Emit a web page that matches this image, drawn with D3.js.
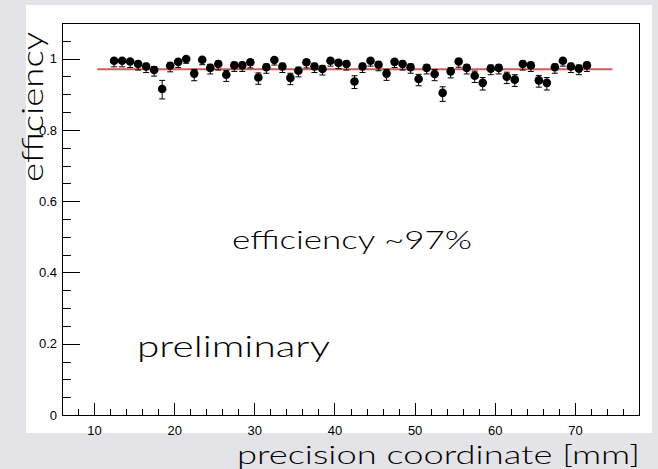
<!DOCTYPE html>
<html>
<head>
<meta charset="utf-8">
<script src="https://cdn.jsdelivr.net/npm/d3@7"></script>
<style>
  html, body { margin: 0; padding: 0; background: #e4e4e8; }
  svg { display: block; }
</style>
</head>
<body>
<svg id="chart" width="658" height="469"></svg>
<script>
// Bin centres along the precision coordinate [mm]
const positions = [
  12.5, 13.5, 14.5, 15.5, 16.5, 17.5, 18.5, 19.5, 20.5, 21.5,
  22.5, 23.5, 24.5, 25.5, 26.5, 27.5, 28.5, 29.5, 30.5, 31.5,
  32.5, 33.5, 34.5, 35.5, 36.5, 37.5, 38.5, 39.5, 40.5, 41.5,
  42.5, 43.5, 44.5, 45.5, 46.5, 47.5, 48.5, 49.5, 50.5, 51.5,
  52.5, 53.5, 54.5, 55.5, 56.5, 57.5, 58.5, 59.5, 60.5, 61.5,
  62.5, 63.5, 64.5, 65.5, 66.5, 67.5, 68.5, 69.5, 70.5, 71.5
];
// Measured efficiency per bin
const efficiency = [
  0.994, 0.994, 0.992, 0.985, 0.978, 0.968, 0.915, 0.980, 0.991, 0.999,
  0.958, 0.997, 0.974, 0.985, 0.955, 0.981, 0.981, 0.990, 0.947, 0.976,
  0.996, 0.978, 0.946, 0.966, 0.990, 0.978, 0.971, 0.994, 0.988, 0.985,
  0.936, 0.978, 0.994, 0.983, 0.958, 0.991, 0.985, 0.976, 0.943, 0.974,
  0.957, 0.904, 0.964, 0.992, 0.974, 0.952, 0.932, 0.972, 0.974, 0.949,
  0.941, 0.985, 0.981, 0.939, 0.932, 0.976, 0.994, 0.978, 0.972, 0.981
];
// Asymmetric uncertainties (lower / upper)
const errLow = [
  0.017, 0.017, 0.017, 0.017, 0.017, 0.017, 0.028, 0.017, 0.016, 0.012,
  0.020, 0.014, 0.017, 0.017, 0.019, 0.017, 0.017, 0.016, 0.019, 0.017,
  0.014, 0.017, 0.019, 0.017, 0.016, 0.017, 0.017, 0.015, 0.016, 0.017,
  0.020, 0.017, 0.015, 0.017, 0.019, 0.016, 0.017, 0.017, 0.019, 0.017,
  0.019, 0.024, 0.018, 0.016, 0.017, 0.019, 0.020, 0.017, 0.017, 0.019,
  0.019, 0.017, 0.017, 0.019, 0.020, 0.017, 0.015, 0.017, 0.017, 0.017
];
const errHigh = [
  0.005, 0.005, 0.006, 0.008, 0.009, 0.010, 0.024, 0.009, 0.006, 0.001,
  0.012, 0.003, 0.010, 0.008, 0.012, 0.009, 0.009, 0.007, 0.013, 0.009,
  0.004, 0.009, 0.013, 0.010, 0.007, 0.009, 0.010, 0.005, 0.008, 0.008,
  0.016, 0.009, 0.005, 0.008, 0.012, 0.006, 0.008, 0.009, 0.013, 0.009,
  0.012, 0.017, 0.011, 0.006, 0.009, 0.013, 0.015, 0.010, 0.009, 0.013,
  0.014, 0.008, 0.009, 0.014, 0.015, 0.009, 0.005, 0.009, 0.010, 0.009
];
// Constant fit: value and range
const fitValue = [0.97];
const fitRange = [10.4, 74.7];

const xTickValues = [10, 20, 30, 40, 50, 60, 70];
const yTickValues = [0, 0.2, 0.4, 0.6, 0.8, 1];

const svg = d3.select("#chart");
const frame = { left: 62, right: 639, top: 23, bottom: 415 };

// Pad (white canvas area)
svg.append("rect")
  .attr("x", 26).attr("y", 5)
  .attr("width", 626).attr("height", 428)
  .attr("fill", "#ffffff");

const x = d3.scaleLinear().domain([6, 78]).range([frame.left, frame.right]);
const y = d3.scaleLinear().domain([0, 1.1]).range([frame.bottom, frame.top]);

// Frame
svg.append("rect")
  .attr("x", frame.left).attr("y", frame.top)
  .attr("width", frame.right - frame.left).attr("height", frame.bottom - frame.top)
  .attr("fill", "none").attr("stroke", "#000").attr("stroke-width", 1)
  .attr("shape-rendering", "crispEdges");

const tickFont = "'Liberation Sans', Arial, Helvetica, sans-serif";

// X axis: major ticks every 10, minor every 2, drawn upward into the frame
const xAxis = d3.axisBottom(x)
  .tickValues(xTickValues)
  .tickSize(-12)
  .tickPadding(11)
  .tickFormat(d3.format("d"));
const xMinor = d3.axisBottom(x)
  .tickValues(d3.range(8, 78, 2).filter(v => v % 10 !== 0))
  .tickSize(-6)
  .tickFormat("");
const gx = svg.append("g").attr("transform", `translate(0,${frame.bottom})`).call(xAxis);
const gxm = svg.append("g").attr("transform", `translate(0,${frame.bottom})`).call(xMinor);
[gx, gxm].forEach(g => {
  g.select(".domain").remove();
  g.selectAll("line").attr("stroke", "#000").attr("shape-rendering", "crispEdges");
});
gx.selectAll("text")
  .attr("font-family", tickFont).attr("font-size", 13).attr("fill", "#000");

// Y axis: major ticks every 0.2, minor every 0.05, drawn rightward into the frame
const yAxis = d3.axisLeft(y)
  .tickValues(yTickValues)
  .tickSize(-18)
  .tickPadding(5)
  .tickFormat(d => d === 0 ? "0" : d === 1 ? "1" : d3.format(".1f")(d));
const yMinorVals = d3.range(0.05, 1.1, 0.05).map(v => +v.toFixed(2)).filter(v => Math.abs(v * 5 - Math.round(v * 5)) > 1e-6);
const yMinor = d3.axisLeft(y).tickValues(yMinorVals).tickSize(-9).tickFormat("");
const gy = svg.append("g").attr("transform", `translate(${frame.left},0)`).call(yAxis);
const gym = svg.append("g").attr("transform", `translate(${frame.left},0)`).call(yMinor);
[gy, gym].forEach(g => {
  g.select(".domain").remove();
  g.selectAll("line").attr("stroke", "#000").attr("shape-rendering", "crispEdges");
});
gy.selectAll("text")
  .attr("font-family", tickFont).attr("font-size", 13).attr("fill", "#000");

// Constant fit line
svg.append("line")
  .attr("x1", x(fitRange[0])).attr("x2", x(fitRange[1]))
  .attr("y1", y(fitValue[0])).attr("y2", y(fitValue[0]))
  .attr("stroke", "#d95a5a").attr("stroke-width", 2);

// Data points with asymmetric error bars
const pts = positions.map((p, i) => ({ p, v: efficiency[i], lo: errLow[i], hi: errHigh[i] }));
const gp = svg.append("g");
const cap = 3;
gp.selectAll("line.err").data(pts).join("line")
  .attr("class", "err")
  .attr("x1", d => x(d.p)).attr("x2", d => x(d.p))
  .attr("y1", d => y(d.v - d.lo)).attr("y2", d => y(d.v + d.hi))
  .attr("stroke", "#000").attr("stroke-width", 1);
gp.selectAll("line.capLo").data(pts).join("line")
  .attr("class", "capLo")
  .attr("x1", d => x(d.p) - cap).attr("x2", d => x(d.p) + cap)
  .attr("y1", d => y(d.v - d.lo)).attr("y2", d => y(d.v - d.lo))
  .attr("stroke", "#000").attr("stroke-width", 1);
gp.selectAll("line.capHi").data(pts).join("line")
  .attr("class", "capHi")
  .attr("x1", d => x(d.p) - cap).attr("x2", d => x(d.p) + cap)
  .attr("y1", d => y(d.v + d.hi)).attr("y2", d => y(d.v + d.hi))
  .attr("stroke", "#000").attr("stroke-width", 1);
gp.selectAll("circle").data(pts).join("circle")
  .attr("cx", d => x(d.p)).attr("cy", d => y(d.v))
  .attr("r", 4.3).attr("fill", "#000");

// Text annotations and axis titles
const labelFont = "'Lato', 'Open Sans', 'DejaVu Sans', sans-serif";
svg.append("text")
  .attr("x", 232).attr("y", 249)
  .attr("font-family", labelFont).attr("font-size", 26).attr("font-weight", 300)
  .attr("textLength", 240).attr("lengthAdjust", "spacingAndGlyphs")
  .attr("fill", "#000")
  .text("efficiency ~97%");
svg.append("text")
  .attr("x", 137).attr("y", 357)
  .attr("font-family", labelFont).attr("font-size", 30).attr("font-weight", 300)
  .attr("textLength", 193).attr("lengthAdjust", "spacingAndGlyphs")
  .attr("fill", "#000")
  .text("preliminary");
svg.append("text")
  .attr("x", 640).attr("y", 464)
  .attr("text-anchor", "end")
  .attr("font-family", labelFont).attr("font-size", 26).attr("font-weight", 300)
  .attr("textLength", 403).attr("lengthAdjust", "spacingAndGlyphs")
  .attr("fill", "#000")
  .text("precision coordinate [mm]");
svg.append("text")
  .attr("transform", "translate(43,182) rotate(-90)")
  .attr("font-family", labelFont).attr("font-size", 30).attr("font-weight", 300)
  .attr("textLength", 150).attr("lengthAdjust", "spacingAndGlyphs")
  .attr("fill", "#000")
  .text("efficiency");
</script>
</body>
</html>
